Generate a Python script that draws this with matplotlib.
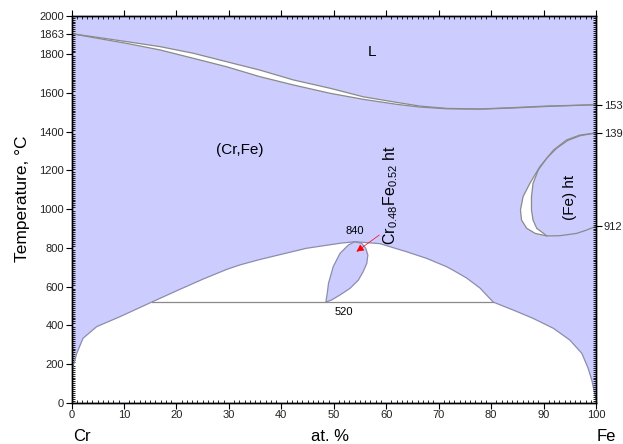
import matplotlib.pyplot as plt
from matplotlib.ticker import MultipleLocator
import numpy as np

plt.rcParams['font.family'] = ['Liberation Sans', 'DejaVu Sans']
plt.rcParams['mathtext.fontset'] = 'custom'
plt.rcParams['mathtext.rm'] = 'Liberation Sans'
plt.rcParams['mathtext.it'] = 'Liberation Sans:italic'

LAV = '#ccccff'
EDGE = '#8c8cae'
GREY = '#8a8a8a'

# liquidus / solidus lens (at.% Fe, deg C)
liq_x = [0, 5.0, 10.5, 16.9, 23.2, 29.6, 35.9, 42.3, 49.3, 55.6, 62.0, 66.4, 71.5, 77.9, 84.2, 90.6, 100]
liq_t = [1907, 1888, 1866, 1840, 1806, 1762, 1719, 1668, 1625, 1581, 1552, 1533, 1521, 1518, 1525, 1533, 1540]
sol_x = [0, 5.0, 10.5, 16.9, 23.2, 29.6, 35.9, 42.3, 49.3, 55.6, 62.0, 66.4, 71.5, 77.9, 84.2, 90.6, 100]
sol_t = [1907, 1883, 1857, 1823, 1780, 1736, 1685, 1642, 1599, 1568, 1542, 1528, 1519, 1517, 1523, 1531, 1540]

# lower boundary of (Cr,Fe): left solvus, sigma dome, right solvus
left_x = [0, 0.1, 0.3, 1.0, 2.2, 4.8, 9.2, 15.3]
left_t = [90, 134, 186, 255, 333, 393, 444, 520]
dome_x = [15.3, 20.1, 25.1, 29.6, 32.1, 35.9, 38.5, 44.8, 51.2, 54.0, 58.8, 63.9, 67.7, 71.5, 72.8, 75.3, 77.9, 80.4]
dome_t = [520, 579, 639, 689, 712, 740, 757, 798, 824, 832, 822, 780, 746, 703, 684, 645, 592, 520]
right_x = [80.4, 84.2, 88.0, 91.9, 95.0, 97.3, 98.5, 99.2, 99.6, 100]
right_t = [520, 479, 436, 384, 324, 255, 178, 117, 66, 20]

# sigma phase Cr0.48Fe0.52 ht
tear_x = [48.5, 48.8, 49.0, 49.9, 51.2, 52.8, 54.0, 55.3, 56.1, 56.5, 56.3, 55.6, 54.7, 53.1, 51.2, 49.6]
tear_t = [520, 574, 617, 703, 772, 815, 832, 824, 798, 763, 720, 677, 634, 591, 557, 531]

# gamma loop
outer_x = [100, 96.9, 94.4, 91.9, 89.3, 87.4, 86.1, 85.6, 85.8, 86.8, 88.4, 90.6, 93.1, 96.3, 98.2, 100]
outer_t = [1394, 1383, 1358, 1306, 1220, 1134, 1065, 996, 944, 901, 875, 862, 863, 875, 892, 912]
inner_x = [100, 97.0, 94.6, 92.5, 90.6, 89.0, 88.0, 87.7, 87.7, 88.0, 88.7, 90.0, 90.6]
inner_t = [1394, 1380, 1355, 1315, 1263, 1203, 1134, 1065, 996, 944, 901, 875, 862]

eutectoid_t = 520

fig = plt.figure(figsize=(6.23, 4.44), dpi=100)
ax = fig.add_axes([71.5 / 623, 1 - 402.7 / 444, 524.5 / 623, 387 / 444])
ax.set_facecolor(LAV)
ax.set_xlim(0, 100)
ax.set_ylim(0, 2000)

# L + (Cr,Fe)
ax.fill(liq_x + sol_x[::-1], liq_t + sol_t[::-1], color='white', lw=0)
ax.plot(liq_x, liq_t, color=GREY, lw=0.9)
ax.plot(sol_x, sol_t, color=GREY, lw=0.9)

# two-phase regions below the dome
low_x = left_x + dome_x[1:] + right_x[1:] + [100, 0]
low_t = left_t + dome_t[1:] + right_t[1:] + [0, 0]
ax.fill(low_x, low_t, color='white', lw=0)
ax.plot(left_x + dome_x[1:] + right_x[1:], left_t + dome_t[1:] + right_t[1:], color=EDGE, lw=0.9)
ax.fill(tear_x, tear_t, facecolor=LAV, edgecolor=EDGE, lw=0.9)
ax.plot([left_x[-1], right_x[0]], [eutectoid_t, eutectoid_t], color=GREY, lw=0.9)

# gamma loop
ax.fill(outer_x, outer_t, color='white', lw=0)
ax.fill(inner_x + outer_x[-4:], inner_t + outer_t[-4:], color=LAV, lw=0)
ax.plot(outer_x, outer_t, color=GREY, lw=0.9)
ax.plot(inner_x, inner_t, color=GREY, lw=0.9)

# labels in the diagram
ax.text(57.3, 1812, 'L', fontsize=11, ha='center', va='center')
ax.text(32.1, 1306, '(Cr,Fe)', fontsize=11, ha='center', va='center')
ax.text(95.0, 1063, '(Fe) ht', fontsize=11, ha='center', va='center', rotation=90)
ax.text(60.8, 1075, r'Cr$_{\mathrm{0.48}}$Fe$_{\mathrm{0.52}}$ ht', fontsize=11.5,
        ha='center', va='center', rotation=90)
ax.text(54.0, 888, '840', fontsize=8, ha='center', va='center')
ax.text(52.0, 468, '520', fontsize=8, ha='center', va='center')
ax.annotate('', xy=(53.9, 772), xytext=(59.1, 875),
            arrowprops=dict(arrowstyle='-|>', color='red', lw=0.5, mutation_scale=11))

# ticks
ax.xaxis.set_major_locator(MultipleLocator(10))
ax.xaxis.set_minor_locator(MultipleLocator(1))
ax.set_yticks(list(range(0, 2001, 200)) + [liq_t[0]])
ax.set_yticklabels([str(v) for v in range(0, 2001, 200)] + ['1863'])
ax.yaxis.set_minor_locator(MultipleLocator(10))
ax.tick_params(which='major', direction='out', length=4, width=0.8, labelsize=8,
               top=True, right=False, colors='black', labelcolor='#222222', pad=1.5)
ax.tick_params(which='minor', direction='in', length=2, width=0.6, top=True, right=False)

twin = ax.twinx()
twin.set_ylim(0, 2000)
twin.set_yticks([912, 1394, 1538])
twin.set_yticklabels(['912', '1394', '1538'])
twin.yaxis.set_minor_locator(MultipleLocator(10))
twin.tick_params(which='major', direction='out', length=4, width=0.8, labelsize=8,
                 labelcolor='#222222', pad=1.5)
twin.tick_params(which='minor', direction='in', length=2, width=0.6)

for a in (ax, twin):
    for s in a.spines.values():
        s.set_linewidth(1.0)

fig.text(23 / 623, 1 - 199 / 444, 'Temperature, \u00b0C', rotation=90, fontsize=12.5,
         ha='center', va='center')
fig.text(82 / 623, 1 - 436 / 444, 'Cr', fontsize=12, ha='center', va='center')
fig.text(330 / 623, 1 - 436 / 444, 'at. %', fontsize=12, ha='center', va='center')
fig.text(606 / 623, 1 - 436 / 444, 'Fe', fontsize=12, ha='center', va='center')

fig.savefig('out.png', dpi=100)
